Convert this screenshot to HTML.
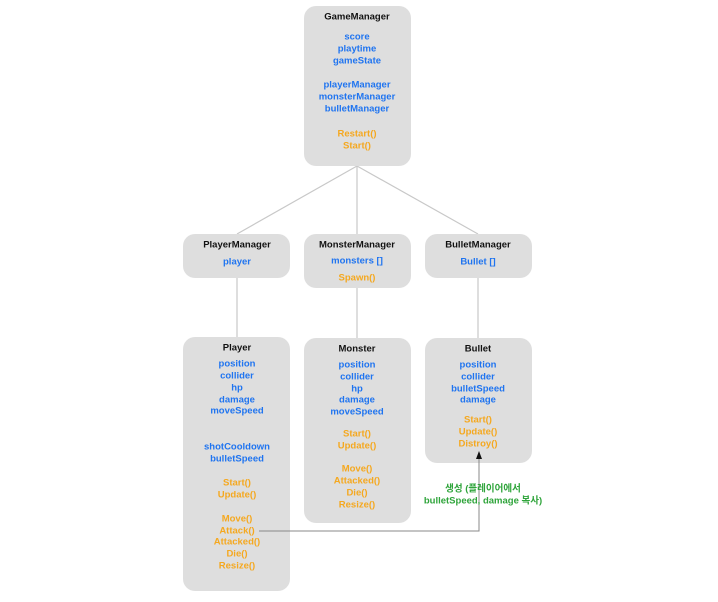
<!DOCTYPE html>
<html><head><meta charset="utf-8"><style>
html,body{margin:0;padding:0;background:#fff;}
svg text{font-family:"Liberation Sans","Noto Sans CJK KR",sans-serif;font-size:9.5px;font-weight:bold;text-anchor:middle;dominant-baseline:central;}
.t{fill:#111}.b{fill:#1f74f0}.o{fill:#f5a81f}.g{fill:#2ea43a}
</style></head><body>
<svg width="718" height="597" viewBox="0 0 718 597" xmlns="http://www.w3.org/2000/svg">
<g stroke="#c8c8c8" stroke-width="1.2" fill="none">
<line x1="357" y1="166" x2="237" y2="234"/>
<line x1="357" y1="166" x2="357" y2="234"/>
<line x1="357" y1="166" x2="478" y2="234"/>
<line x1="237" y1="278" x2="237" y2="338"/>
<line x1="357" y1="288" x2="357" y2="338"/>
<line x1="478" y1="278" x2="478" y2="338"/>
</g>
<g fill="#dedede">
<rect x="304" y="6" width="107" height="160" rx="12"/>
<rect x="183" y="234" width="107" height="44" rx="12"/>
<rect x="304" y="234" width="107" height="54" rx="12"/>
<rect x="425" y="234" width="107" height="44" rx="12"/>
<rect x="183" y="337" width="107" height="254" rx="12"/>
<rect x="304" y="338" width="107" height="185" rx="12"/>
<rect x="425" y="338" width="107" height="125" rx="12"/>
</g>
<polyline points="259,531 479,531 479,458" fill="none" stroke="#888" stroke-width="1"/>
<polygon points="479,451 476,459 482,459" fill="#111"/>

<text x="357" y="17" class="t">GameManager</text>
<text x="357" y="37" class="b">score</text>
<text x="357" y="49" class="b">playtime</text>
<text x="357" y="61" class="b">gameState</text>
<text x="357" y="85" class="b">playerManager</text>
<text x="357" y="97" class="b">monsterManager</text>
<text x="357" y="109" class="b">bulletManager</text>
<text x="357" y="134" class="o">Restart()</text>
<text x="357" y="146" class="o">Start()</text>

<text x="237" y="245" class="t">PlayerManager</text>
<text x="237" y="262" class="b">player</text>
<text x="357" y="245" class="t">MonsterManager</text>
<text x="357" y="261" class="b">monsters []</text>
<text x="357" y="278" class="o">Spawn()</text>
<text x="478" y="245" class="t">BulletManager</text>
<text x="478" y="262" class="b">Bullet []</text>

<text x="237" y="348" class="t">Player</text>
<text x="237" y="364" class="b">position</text>
<text x="237" y="376" class="b">collider</text>
<text x="237" y="388" class="b">hp</text>
<text x="237" y="400" class="b">damage</text>
<text x="237" y="411" class="b">moveSpeed</text>
<text x="237" y="447" class="b">shotCooldown</text>
<text x="237" y="459" class="b">bulletSpeed</text>
<text x="237" y="483" class="o">Start()</text>
<text x="237" y="495" class="o">Update()</text>
<text x="237" y="519" class="o">Move()</text>
<text x="237" y="531" class="o">Attack()</text>
<text x="237" y="542" class="o">Attacked()</text>
<text x="237" y="554" class="o">Die()</text>
<text x="237" y="566" class="o">Resize()</text>

<text x="357" y="349" class="t">Monster</text>
<text x="357" y="365" class="b">position</text>
<text x="357" y="377" class="b">collider</text>
<text x="357" y="389" class="b">hp</text>
<text x="357" y="400" class="b">damage</text>
<text x="357" y="412" class="b">moveSpeed</text>
<text x="357" y="434" class="o">Start()</text>
<text x="357" y="446" class="o">Update()</text>
<text x="357" y="469" class="o">Move()</text>
<text x="357" y="481" class="o">Attacked()</text>
<text x="357" y="493" class="o">Die()</text>
<text x="357" y="505" class="o">Resize()</text>

<text x="478" y="349" class="t">Bullet</text>
<text x="478" y="365" class="b">position</text>
<text x="478" y="377" class="b">collider</text>
<text x="478" y="389" class="b">bulletSpeed</text>
<text x="478" y="400" class="b">damage</text>
<text x="478" y="420" class="o">Start()</text>
<text x="478" y="432" class="o">Update()</text>
<text x="478" y="444" class="o">Distroy()</text>

<text x="483" y="489" class="g">생성 (플레이어에서</text>
<text x="483" y="501" class="g">bulletSpeed, damage 복사)</text>
</svg>
</body></html>
